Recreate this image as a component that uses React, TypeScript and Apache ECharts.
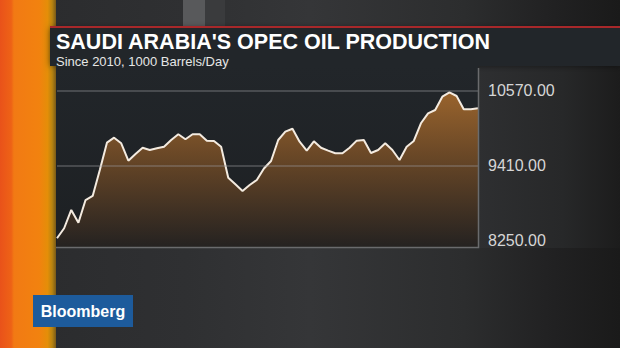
import React, { useEffect, useRef } from "react";
import * as echarts from "echarts";

const titleText = "SAUDI ARABIA'S OPEC OIL PRODUCTION";
const subtitleText = "Since 2010, 1000 Barrels/Day";
const brandText = "Bloomberg";

const months: string[] = [
  "2010-01", "2010-02", "2010-03", "2010-04", "2010-05", "2010-06", "2010-07", "2010-08", "2010-09", "2010-10", "2010-11", "2010-12",
  "2011-01", "2011-02", "2011-03", "2011-04", "2011-05", "2011-06", "2011-07", "2011-08", "2011-09", "2011-10", "2011-11", "2011-12",
  "2012-01", "2012-02", "2012-03", "2012-04", "2012-05", "2012-06", "2012-07", "2012-08", "2012-09", "2012-10", "2012-11", "2012-12",
  "2013-01", "2013-02", "2013-03", "2013-04", "2013-05", "2013-06", "2013-07", "2013-08", "2013-09", "2013-10", "2013-11", "2013-12",
  "2014-01", "2014-02", "2014-03", "2014-04", "2014-05", "2014-06", "2014-07", "2014-08", "2014-09", "2014-10", "2014-11", "2014-12",
];

const production: number[] = [
  8287, 8442, 8725, 8528, 8879, 8941, 9343, 9766, 9843, 9756,
  9487, 9591, 9688, 9653, 9679, 9704, 9807, 9896, 9818, 9896,
  9896, 9797, 9792, 9704, 9224, 9122, 9019, 9111, 9189, 9367,
  9483, 9807, 9936, 9982, 9781, 9642, 9787, 9688, 9642, 9602,
  9602, 9688, 9797, 9807, 9606, 9653, 9756, 9653, 9498, 9704,
  9792, 10066, 10220, 10271, 10477, 10545, 10488, 10282, 10282, 10298,
];

const tickValues: number[] = [8250, 9410, 10570];
const gridLineValues: number[] = [9410, 10570];
const yMin = 8152;
const yMax = 10952;

export default function App() {
  const ref = useRef<HTMLDivElement>(null);

  useEffect(() => {
    document.body.style.margin = "0";
    if (!ref.current) return;
    const chart = echarts.init(ref.current, undefined, { renderer: "svg" });

    const font = "'Liberation Sans', Arial, sans-serif";

    chart.setOption({
      animation: false,
      backgroundColor: "#2b2c2e",
      graphic: [
        {
          type: "rect",
          z: -20,
          silent: true,
          shape: { x: 0, y: 0, width: 620, height: 348 },
          style: {
            fill: new echarts.graphic.LinearGradient(0, 0, 1, 0, [
              { offset: 0, color: "#2a2b2d" },
              { offset: 0.3, color: "#2f3032" },
              { offset: 0.5, color: "#353638" },
              { offset: 0.75, color: "#2c2d2e" },
              { offset: 0.88, color: "#222223" },
              { offset: 1, color: "#1a1a1a" },
            ]),
          },
        },
        {
          type: "rect",
          z: -19,
          silent: true,
          shape: { x: 183, y: 0, width: 22, height: 27 },
          style: { fill: "#58595b" },
        },
        {
          type: "rect",
          z: -19,
          silent: true,
          shape: { x: 205, y: 0, width: 20, height: 27 },
          style: { fill: "#3a3b3d" },
        },
        {
          type: "rect",
          z: -18,
          silent: true,
          shape: { x: 0, y: 0, width: 56, height: 348 },
          style: {
            fill: new echarts.graphic.LinearGradient(0, 0, 1, 0, [
              { offset: 0, color: "#e9521a" },
              { offset: 0.2, color: "#ee6216" },
              { offset: 0.25, color: "#f27a14" },
              { offset: 0.7, color: "#f2820f" },
              { offset: 0.85, color: "#e48e08" },
              { offset: 0.93, color: "#b88410" },
              { offset: 1, color: "#7a5a18" },
            ]),
          },
        },
        {
          type: "rect",
          z: -15,
          silent: true,
          shape: { x: 50, y: 28, width: 570, height: 38 },
          style: { fill: "#242629", shadowBlur: 6, shadowColor: "rgba(0,0,0,0.5)" },
        },
        {
          type: "rect",
          z: -14,
          silent: true,
          shape: { x: 50, y: 26, width: 570, height: 2 },
          style: { fill: "#a8282a" },
        },
        {
          type: "rect",
          z: -16,
          silent: true,
          shape: { x: 478, y: 66, width: 142, height: 182 },
          style: {
            fill: new echarts.graphic.LinearGradient(0, 0, 1, 0, [
              { offset: 0, color: "#2e2f31" },
              { offset: 0.6, color: "#272829" },
              { offset: 1, color: "#1c1c1c" },
            ]),
          },
        },
        {
          type: "rect",
          z: -15,
          silent: true,
          shape: { x: 56, y: 66, width: 422, height: 181 },
          style: {
            fill: new echarts.graphic.LinearGradient(0, 0, 0, 1, [
              { offset: 0, color: "#22262a" },
              { offset: 1, color: "#1d2023" },
            ]),
          },
        },
        {
          type: "polyline",
          z: 10,
          silent: true,
          shape: { points: [[478.5, 68], [478.5, 247.5], [56, 247.5]] },
          style: { stroke: "#6a6b6d", lineWidth: 1.5, fill: null },
        },
        {
          type: "text",
          z: 10,
          x: 56,
          y: 42,
          style: {
            text: titleText,
            fill: "#ffffff",
            font: `bold 21.5px ${font}`,
            verticalAlign: "middle",
            align: "left",
          },
        },
        {
          type: "text",
          z: 10,
          x: 56,
          y: 61,
          style: {
            text: subtitleText,
            fill: "#e6e6e6",
            font: `13px ${font}`,
            verticalAlign: "middle",
            align: "left",
          },
        },
        {
          type: "rect",
          z: 10,
          silent: true,
          shape: { x: 33, y: 295, width: 100, height: 32 },
          style: { fill: "#1d5b9c" },
        },
        {
          type: "text",
          z: 11,
          x: 83,
          y: 311,
          style: {
            text: brandText,
            fill: "#ffffff",
            font: `bold 16px ${font}`,
            verticalAlign: "middle",
            align: "center",
          },
        },
      ],
      grid: { left: 57, right: 142, top: 66, bottom: 101, containLabel: false },
      xAxis: {
        type: "category",
        data: months,
        boundaryGap: false,
        show: false,
      },
      yAxis: {
        type: "value",
        position: "right",
        min: yMin,
        max: yMax,
        z: 5,
        axisLine: { show: false },
        axisTick: { show: false },
        splitLine: { show: false },
        axisLabel: {
          customValues: tickValues,
          margin: 10,
          color: "#d6d6d6",
          fontSize: 16,
          fontFamily: font,
          formatter: (v: number) => v.toFixed(2),
        },
      },
      series: [
        {
          type: "line",
          data: production,
          symbol: "none",
          lineStyle: { color: "#f4ebe0", width: 2 },
          areaStyle: {
            color: new echarts.graphic.LinearGradient(0, 0, 0, 1, [
              { offset: 0, color: "#cc7e2e" },
              { offset: 0.45, color: "#825326" },
              { offset: 1, color: "#282320" },
            ]),
          },
          markLine: {
            silent: true,
            symbol: "none",
            label: { show: false },
            lineStyle: { color: "rgba(150,152,155,0.45)", width: 1.5, type: "solid" },
            data: gridLineValues.map((v) => ({ yAxis: v })),
          },
        },
      ],
    });

    return () => chart.dispose();
  }, []);

  return (
    <div
      ref={ref}
      style={{ position: "fixed", left: 0, top: 0, width: 620, height: 348 }}
    />
  );
}
